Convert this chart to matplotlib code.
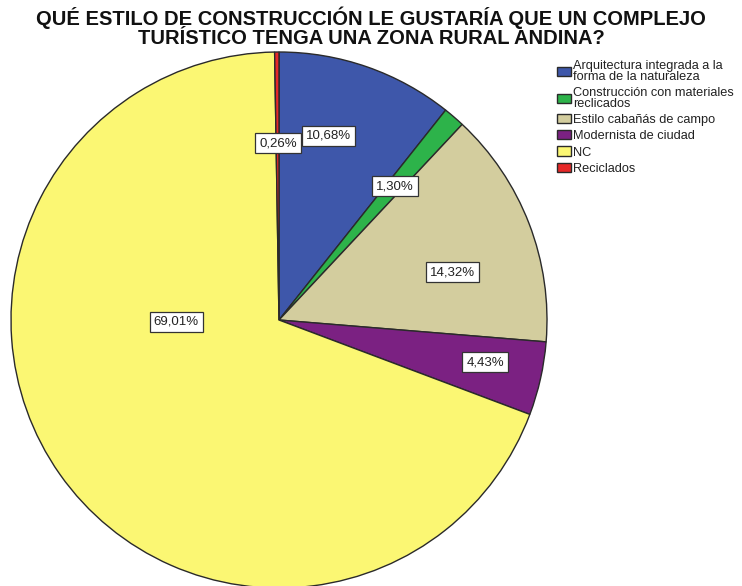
import matplotlib
matplotlib.use("Agg")
import matplotlib.pyplot as plt

categories = [
    "Arquitectura integrada a la\nforma de la naturaleza",
    "Construcción con materiales\nreclicados",
    "Estilo cabañás de campo",
    "Modernista de ciudad",
    "NC",
    "Reciclados",
]
values = [10.68, 1.30, 14.32, 4.43, 69.01, 0.26]
colors = ["#3E57AA", "#2DB34A", "#D3CD9E", "#7B2182", "#FBF773", "#E62828"]
# label positions (fraction of radius), layout only
label_xy = [(0.183, 0.687), (0.433, 0.500), (0.649, 0.179),
            (0.769, -0.157), (-0.384, -0.007), (-0.004, 0.660)]
title = "QUÉ ESTILO DE CONSTRUCCIÓN LE GUSTARÍA QUE UN COMPLEJO\nTURÍSTICO TENGA UNA ZONA RURAL ANDINA?"

plt.rcParams['font.family'] = ['Liberation Sans', 'DejaVu Sans']

W, H = 742, 586
fig = plt.figure(figsize=(W / 100, H / 100), dpi=100)
fig.patch.set_facecolor("white")

cx, cy, r = 279, 320, 268
ax = fig.add_axes([(cx - r) / W, (H - cy - r) / H, 2 * r / W, 2 * r / H])
wedges, _ = ax.pie(values, colors=colors, startangle=90, counterclock=False,
                   radius=1,
                   wedgeprops=dict(edgecolor="#2a2a2a", linewidth=1.0))
ax.set_xlim(-1, 1)
ax.set_ylim(-1, 1)
ax.axis("off")

for v, (lx, ly) in zip(values, label_xy):
    ax.text(lx, ly, f"{v:.2f}".replace(".", ",") + "%", ha="center", va="center",
            fontsize=9.5, color="#222222",
            bbox=dict(boxstyle="square,pad=0.3", facecolor="white",
                      edgecolor="#333333", linewidth=0.9))

fig.text(0.5, 1 - 27.5 / H, title, ha="center", va="center", fontsize=14.5,
         fontweight="bold", linespacing=1.0, color="#111111")

leg = fig.legend(wedges, categories, loc="upper left",
                 bbox_to_anchor=(557 / W, 1 - 60 / H), frameon=False,
                 fontsize=9.2, handlelength=1.1, handleheight=0.75,
                 handletextpad=0.15, labelspacing=0.33, borderaxespad=0,
                 borderpad=0)
for t in leg.get_texts():
    t.set_linespacing(0.85)
    t.set_color("#222222")

fig.savefig("out.png", dpi=100, facecolor="white")
